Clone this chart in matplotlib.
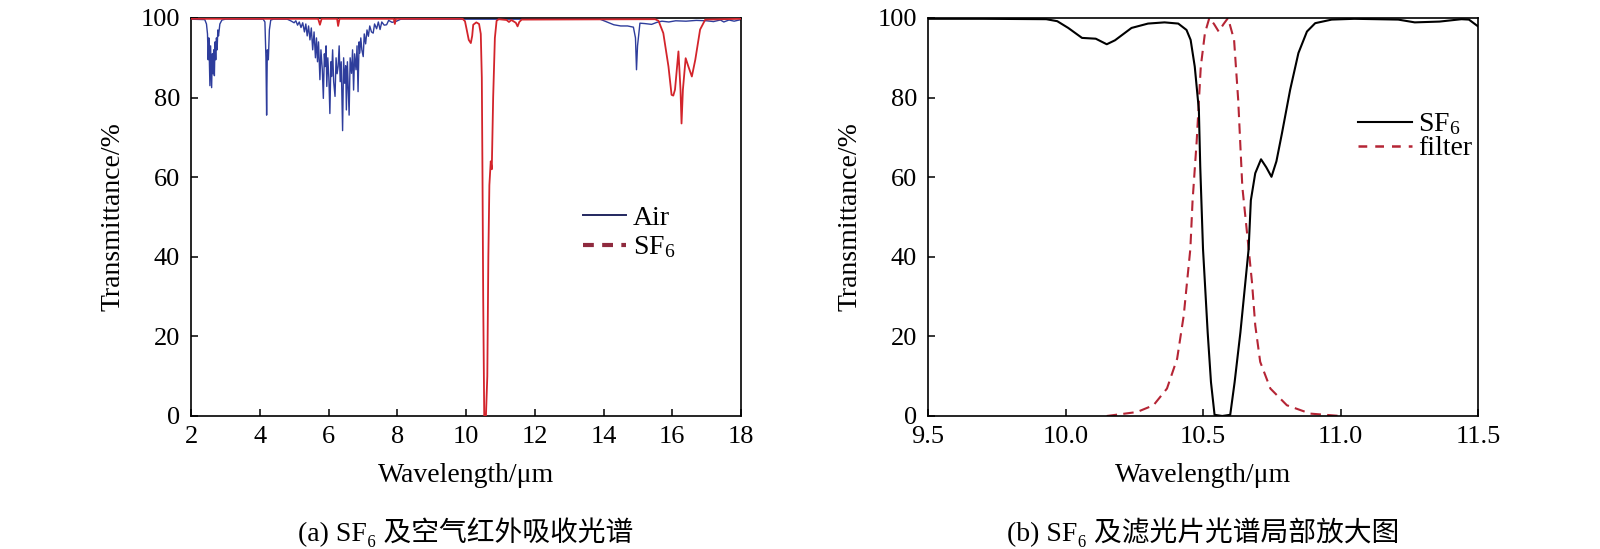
import matplotlib
matplotlib.use("Agg")
import matplotlib.pyplot as plt
from matplotlib.lines import Line2D

plt.rcParams['font.family'] = ['Liberation Serif', 'Noto Sans CJK SC', 'DejaVu Serif']
plt.rcParams['mathtext.fontset'] = 'custom'
plt.rcParams['mathtext.rm'] = 'Liberation Serif'
plt.rcParams['mathtext.it'] = 'Liberation Serif:italic'

# ---------------- data: panel (a) ----------------
air_wl = [2.00, 2.40, 2.45, 2.48, 2.50, 2.52, 2.55, 2.57, 2.60, 2.62, 2.64, 2.66, 2.68, 2.70,
          2.72, 2.74, 2.76, 2.78, 2.80, 2.84, 2.90, 3.00, 4.10, 4.15, 4.18, 4.20, 4.22, 4.25,
          4.28, 4.32, 4.40, 4.80, 4.90, 5.00, 5.05, 5.10, 5.15, 5.20, 5.25, 5.30, 5.34, 5.38,
          5.42, 5.46, 5.50, 5.54, 5.58, 5.62, 5.65, 5.68, 5.71, 5.75, 5.78, 5.82, 5.85, 5.88,
          5.90, 5.93, 5.95, 5.98, 6.01, 6.04, 6.07, 6.09, 6.12, 6.15, 6.19, 6.22, 6.25, 6.28,
          6.31, 6.34, 6.37, 6.41, 6.44, 6.47, 6.50, 6.52, 6.55, 6.58, 6.60, 6.63, 6.67, 6.70,
          6.73, 6.76, 6.80, 6.83, 6.86, 6.89, 6.91, 6.94, 6.97, 7.01, 7.04, 7.08, 7.12, 7.16,
          7.20, 7.25, 7.30, 7.34, 7.40, 7.45, 7.50, 7.55, 7.62, 7.69, 7.75, 7.85, 7.98, 8.10,
          13.90, 14.10, 14.30, 14.50, 14.70, 14.87, 14.93, 14.96, 14.99, 15.06, 15.20, 15.40,
          15.55, 15.70, 15.90, 16.10, 16.40, 16.70, 17.00, 17.20, 17.40, 17.50, 17.65, 17.80, 18.00]
air_t = [99.7, 99.6, 98.5, 96.0, 89.5, 95.0, 83.0, 93.0, 82.5, 91.0, 86.0, 92.0, 85.5, 94.0,
         89.5, 95.0, 92.0, 97.0, 95.5, 98.5, 99.5, 99.7, 99.7, 99.0, 90.0, 75.6, 92.0, 89.5,
         97.0, 99.5, 99.7, 99.7, 99.3, 98.8, 99.3, 98.2, 99.0, 97.6, 98.8, 96.5, 98.5, 95.5,
         98.0, 94.5, 97.5, 92.0, 96.5, 90.0, 95.0, 89.0, 94.0, 84.5, 92.0, 87.0, 79.8, 91.0,
         87.8, 93.0, 82.8, 90.0, 85.0, 76.0, 89.0, 85.3, 92.0, 84.0, 80.3, 90.0, 86.0, 87.8,
         93.0, 84.0, 89.0, 71.7, 90.0, 83.6, 88.0, 76.9, 89.0, 81.0, 75.6, 90.0, 86.1, 92.0,
         81.9, 91.0, 87.0, 93.0, 81.5, 94.0, 91.2, 95.0, 92.0, 90.3, 96.0, 93.5, 97.0, 95.4,
         98.0, 96.5, 96.2, 98.5, 97.3, 99.0, 97.1, 99.0, 98.2, 98.3, 99.4, 98.9, 99.2, 99.7,
         99.7, 99.0, 98.3, 98.0, 98.0, 97.7, 95.0, 87.0, 93.0, 98.7, 98.6, 98.4,
         98.9, 99.2, 99.0, 99.3, 99.2, 99.4, 99.3, 99.1, 99.5, 99.0, 99.5, 99.2, 99.6]

sf6_wl = [2.00, 5.70, 5.75, 5.80, 6.25, 6.28, 6.32, 7.90, 7.93, 7.96, 9.90, 9.97, 10.02, 10.08,
          10.14, 10.18, 10.21, 10.30, 10.38, 10.43, 10.46, 10.48, 10.50, 10.53, 10.58, 10.62,
          10.65, 10.68, 10.70, 10.72, 10.75, 10.79, 10.84, 10.89, 10.95, 11.18, 11.25, 11.32,
          11.45, 11.50, 11.55, 11.62, 15.50, 15.60, 15.74, 15.89, 15.98, 16.03, 16.08, 16.18,
          16.24, 16.27, 16.31, 16.39, 16.47, 16.57, 16.67, 16.81, 16.96, 18.00]
sf6_t = [99.8, 99.8, 98.3, 99.8, 99.8, 98.0, 99.8, 99.8, 98.5, 99.8, 99.8, 99.2, 97.1, 94.5,
         93.7, 95.5, 98.3, 98.9, 98.5, 96.0, 85.0, 60.0, 30.0, 0.0, 0.0, 10.0,
         40.0, 58.0, 61.0, 64.0, 62.0, 80.0, 95.0, 99.3, 99.7, 99.5, 99.0, 99.5,
         98.8, 97.9, 99.0, 99.6, 99.7, 99.3, 96.2, 87.8, 80.7, 80.5, 82.0, 91.6,
         82.0, 73.5, 82.0, 89.9, 87.8, 85.3, 89.5, 97.1, 99.6, 99.8]

# ---------------- data: panel (b) ----------------
sf6b_wl = [9.50, 9.70, 9.93, 9.97, 10.01, 10.06, 10.11, 10.15, 10.18, 10.24, 10.30, 10.36,
           10.41, 10.44, 10.455, 10.47, 10.485, 10.49, 10.50, 10.517, 10.529, 10.542, 10.57,
           10.599, 10.615, 10.636, 10.666, 10.674, 10.69, 10.711, 10.73, 10.749, 10.767,
           10.787, 10.817, 10.847, 10.878, 10.908, 10.968, 11.05, 11.21, 11.27, 11.36, 11.44,
           11.467, 11.50]
sf6b_t = [99.8, 99.8, 99.7, 99.2, 97.5, 95.0, 94.8, 93.4, 94.4, 97.5, 98.6, 98.9,
          98.6, 97.0, 94.5, 87.8, 76.9, 62.6, 42.0, 21.0, 8.5, 0.3, 0.0,
          0.3, 8.5, 21.0, 42.0, 54.2, 61.0, 64.5, 62.5, 60.1, 64.0,
          71.0, 82.0, 91.2, 96.6, 98.7, 99.6, 99.8, 99.6, 98.9, 99.1, 99.7,
          99.6, 97.9]

filt_wl = [10.15, 10.26, 10.32, 10.369, 10.406, 10.43, 10.442, 10.454, 10.462, 10.477, 10.492,
           10.507, 10.523, 10.54, 10.557, 10.575, 10.591, 10.613, 10.628, 10.643, 10.666,
           10.678, 10.69, 10.708, 10.745, 10.805, 10.89, 11.00]
filt_t = [0.0, 1.0, 2.7, 6.9, 14.4, 25.3, 33.7, 42.0, 54.0, 69.0, 87.8,
          96.2, 100.0, 98.5, 96.6, 98.5, 100.0, 94.5, 79.4, 57.6, 42.0,
          33.7, 22.8, 13.6, 6.9, 2.7, 0.6, 0.0]

xticks_a = [2, 4, 6, 8, 10, 12, 14, 16, 18]
xticks_b = [9.5, 10.0, 10.5, 11.0, 11.5]
yticks = [0, 20, 40, 60, 80, 100]

caption_a = "(a) SF\u2086 及空气红外吸收光谱"
caption_b = "(b) SF\u2086 及滤光片光谱局部放大图"

# ---------------- figure ----------------
fig = plt.figure(figsize=(16, 5.49), dpi=100)
W, H = 1600, 549
ax_top, ax_bot = 18, 416
axa = fig.add_axes([191 / W, 1 - ax_bot / H, 550 / W, (ax_bot - ax_top) / H])
axb = fig.add_axes([928 / W, 1 - ax_bot / H, 550 / W, (ax_bot - ax_top) / H])

air_color = '#2e3d9c'
red_color = '#d3242b'
leg_red = '#8f2a3e'
filt_color = '#b52535'

axa.plot(air_wl, air_t, color=air_color, lw=1.0, zorder=2)
axa.plot(sf6_wl, sf6_t, color=red_color, lw=1.3, zorder=3)
axa.set_xlim(2, 18)
axa.set_xticks(xticks_a)
axa.set_xticklabels([str(v) for v in xticks_a])

axb.plot(sf6b_wl, sf6b_t, color='black', lw=1.5, zorder=3)
axb.plot(filt_wl, filt_t, color=filt_color, lw=1.5, ls=(0, (5, 3)), zorder=2)
axb.set_xlim(9.5, 11.5)
axb.set_xticks(xticks_b)
axb.set_xticklabels(["%.1f" % v for v in xticks_b])

for ax in (axa, axb):
    ax.set_ylim(0, 100)
    ax.set_yticks(yticks)
    ax.set_yticklabels([str(v) for v in yticks])
    ax.tick_params(direction='in', length=5, width=1.1, labelsize=19, top=False, right=False)
    ax.tick_params(axis='x', pad=7)
    ax.tick_params(axis='y', pad=8)
    for s in ax.spines.values():
        s.set_linewidth(1.2)
        s.set_color('black')
    ax.set_xlabel("Wavelength/\u03bcm", fontsize=20, va='center')
    ax.xaxis.set_label_coords(0.5, (ax_bot - 476) / (ax_bot - ax_top))
    ax.set_ylabel("Transmittance/%", fontsize=20, va='center')
    ax.yaxis.set_label_coords((113 - 191) / 550, 0.5)

ha = [Line2D([], [], color='#23275f', lw=1.4),
      Line2D([], [], color=leg_red, lw=3.0, ls=(0, (2.6, 2.0)))]
axa.legend(ha, ["Air", "SF$_6$"], loc='upper left', bbox_to_anchor=(0.713, 0.53),
           frameon=False, fontsize=20, handlelength=1.55, handletextpad=0.25,
           labelspacing=0.15, borderpad=0, borderaxespad=0)

hb = [Line2D([], [], color='black', lw=1.5),
      Line2D([], [], color=filt_color, lw=1.8, ls=(0, (3.5, 3.2)))]
axb.legend(hb, ["SF$_6$", "filter"], loc='upper left', bbox_to_anchor=(0.782, 0.765),
           frameon=False, fontsize=20, handlelength=1.95, handletextpad=0.2,
           labelspacing=-0.05, borderpad=0, borderaxespad=0)

fig.text(466 / W, 1 - 532 / H, caption_a, ha='center', va='center', fontsize=20)
fig.text(1203 / W, 1 - 532 / H, caption_b, ha='center', va='center', fontsize=20)

fig.savefig("out.png", dpi=100)
